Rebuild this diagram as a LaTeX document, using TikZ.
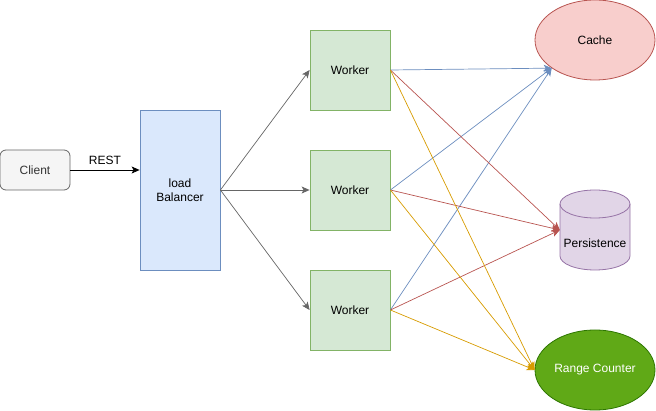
\documentclass[tikz,border=0pt]{standalone}
\usepackage{fontspec}
\setmainfont{Liberation Sans}
\usetikzlibrary{arrows.meta,shapes.geometric}

\definecolor{clientfill}{HTML}{F5F5F5}
\definecolor{clientline}{HTML}{666666}
\definecolor{lbfill}{HTML}{DAE8FC}
\definecolor{lbline}{HTML}{6C8EBF}
\definecolor{workerfill}{HTML}{D5E8D4}
\definecolor{workerline}{HTML}{82B366}
\definecolor{cachefill}{HTML}{F8CECC}
\definecolor{cacheline}{HTML}{B85450}
\definecolor{persfill}{HTML}{E1D5E7}
\definecolor{persline}{HTML}{9673A6}
\definecolor{rcfill}{HTML}{60A917}
\definecolor{rcline}{HTML}{2D7600}
\definecolor{toorange}{HTML}{D79B00}

\tikzset{
    every node/.style={font=\fontsize{12pt}{14.5pt}\selectfont},
    box/.style={draw, line width=0.8pt, align=center, inner sep=0pt},
    client/.style={box, draw=clientline, fill=clientfill, text=black!80, rounded corners=6pt, minimum width=70pt, minimum height=40pt},
    balancer/.style={box, draw=lbline, fill=lbfill, minimum width=80pt, minimum height=160pt},
    worker/.style={box, draw=workerline, fill=workerfill, minimum width=80pt, minimum height=80pt},
    cache/.style={box, ellipse, draw=cacheline, fill=cachefill, minimum width=120pt, minimum height=80pt},
    store/.style={align=center, inner sep=0pt, minimum width=70pt, minimum height=80pt},
    storeline/.style={draw=persline, fill=persfill, line width=0.8pt},
    counter/.style={box, ellipse, draw=rcline, fill=rcfill, text=white, minimum width=120pt, minimum height=80pt},
    link/.style={-{Stealth[length=8pt,width=7pt,inset=2pt]}, line width=0.7pt},
}

\begin{document}
\begin{tikzpicture}[x=1pt, y=-1pt]
    \useasboundingbox (0,0) rectangle (656,411);

    % Client and load balancer
    \node[client] (client) at (35,170) {Client};
    \node[balancer] (lb) at (180,190) {load\\Balancer};

    % The three workers
    \node[worker] (w1) at (350,70) {Worker};
    \node[worker] (w2) at (350,190) {Worker};
    \node[worker] (w3) at (350,310) {Worker};

    % Backends
    \node[cache] (cache) at (595,40) {Cache};
    \draw[storeline] (560,204) -- (560,256)
        arc[start angle=180, end angle=360, x radius=35pt, y radius=14pt]
        -- (630,204)
        arc[start angle=0, end angle=180, x radius=35pt, y radius=14pt] -- cycle;
    \draw[storeline, fill=none] (560,204)
        arc[start angle=180, end angle=360, x radius=35pt, y radius=14pt];
    \node[store, label={[yshift=-13pt]center:Persistence}] (pers) at (595,230) {};
    \node[counter] (rc) at (595,370) {Range Counter};

    % Client to load balancer
    \draw[link, black] (client.east) -- (client.east -| lb.west) node[midway, above=2pt] {REST};

    % Load balancer to workers
    \draw[link, black!60] (lb.east) -- (w1.west);
    \draw[link, black!60] (lb.east) -- (w2.west);
    \draw[link, black!60] (lb.east) -- (w3.west);

    % Workers to backends
    \draw[link, lbline] (w1.east) -- (cache.213);
    \draw[link, lbline] (w2.east) -- (cache.213);
    \draw[link, lbline] (w3.east) -- (cache.213);
    \draw[link, cacheline] (w1.east) -- (pers.west);
    \draw[link, cacheline] (w2.east) -- (pers.west);
    \draw[link, cacheline] (w3.east) -- (pers.west);
    \draw[link, toorange] (w1.east) -- (rc.west);
    \draw[link, toorange] (w2.east) -- (rc.west);
    \draw[link, toorange] (w3.east) -- (rc.west);
\end{tikzpicture}
\end{document}
